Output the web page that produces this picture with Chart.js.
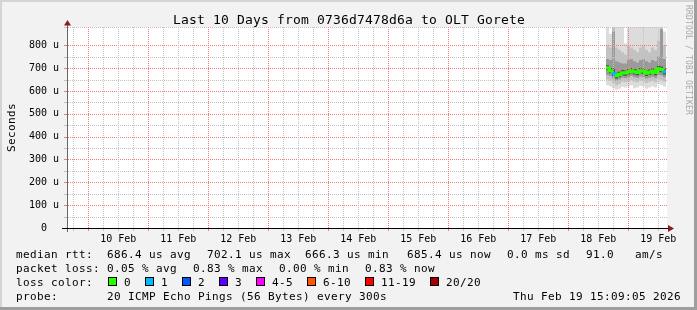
<!DOCTYPE html>
<html>
<head>
<meta charset="utf-8">
<script src="https://cdn.jsdelivr.net/npm/chart.js@4.4.1/dist/chart.umd.min.js"></script>
<style>
html, body { margin: 0; padding: 0; background: #f2f2f2; }
canvas { display: block; }
</style>
</head>
<body>
<canvas id="smokeChart" width="697" height="310"></canvas>
<script>
// step boundaries, hours since 10 Feb 00:00 (last value = end of last step)
const stepHours = [207.1, 208.3, 209.5, 210.7, 211.9, 213.1, 214.3, 215.5, 216.7, 217.9, 219.1,
                   220.3, 221.5, 222.7, 223.9, 225.1, 226.3, 227.5, 228.7, 229.9, 231.1];

// median rtt per step (us) and lost pings per step
const median = [702, 688, 676, 667, 672, 680, 679, 684, 689, 684, 681, 689, 686, 678, 682, 687, 681, 697, 694, 684];
const lost   = [0, 0, 1, 0, 0, 0, 0, 0, 0, 0, 0, 0, 0, 0, 0, 0, 0, 0, 0, 1];

// smoke: spread of the 20 pings per step (us)
const pingMax = [900, 850, 900, 900, 900, 900, 808, 900, 900, 900, 900, 900, 900, 900, 900, 900, 900, 900, 900, 860];
const ping90  = [800, 790, 900, 790, 780, 770, 760, 800, 790, 780, 770, 790, 800, 780, 770, 790, 780, 820, 900, 800];
const ping75  = [740, 735, 860, 730, 725, 720, 720, 735, 740, 730, 725, 735, 740, 730, 725, 735, 730, 750, 870, 740];
const ping60  = [712, 700, 700, 680, 685, 692, 690, 696, 700, 696, 693, 700, 698, 690, 694, 699, 693, 710, 707, 697];
const ping40  = [692, 678, 665, 655, 660, 668, 667, 672, 678, 672, 669, 678, 674, 666, 670, 675, 669, 685, 682, 672];
const ping25  = [670, 665, 655, 645, 650, 658, 656, 660, 665, 660, 657, 663, 660, 655, 658, 662, 657, 670, 668, 660];
const ping10  = [650, 645, 635, 625, 630, 640, 638, 642, 648, 640, 638, 645, 642, 635, 640, 644, 638, 652, 648, 640];
const pingMin = [625, 620, 612, 605, 610, 618, 615, 620, 625, 612, 615, 622, 620, 610, 615, 620, 615, 630, 625, 618];

const dayLabels = ['10 Feb', '11 Feb', '12 Feb', '13 Feb', '14 Feb', '15 Feb', '16 Feb', '17 Feb', '18 Feb', '19 Feb'];
const gridHours = [-6, 0, 6, 12, 18, 24, 30, 36, 42, 48, 54, 60, 66, 72, 78, 84, 90, 96, 102, 108, 114, 120,
                   126, 132, 138, 144, 150, 156, 162, 168, 174, 180, 186, 192, 198, 204, 210, 216, 222, 228];

const lossNames  = ['0', '1', '2', '3', '4-5', '6-10', '11-19', '20/20'];
const lossColors = ['#26ff00', '#00b8ff', '#0059ff', '#5e00ff', '#ff00ff', '#ff5500', '#ff0000', '#a10000'];

const titleText = 'Last 10 Days from 0736d7478d6a to OLT Gorete';
const rttRow  = [['median rtt:', 16], ['686.4 us avg', 107], ['702.1 us max', 207], ['666.3 us min', 305],
                 ['685.4 us now', 407], ['0.0 ms sd', 507], ['91.0', 586], ['am/s', 635]];
const lossRow = [['packet loss:', 16], ['0.05 % avg', 107], ['0.83 % max', 193], ['0.00 % min', 279], ['0.83 % now', 365]];
const probeRow = [['probe:', 16], ['20 ICMP Echo Pings (56 Bytes) every 300s', 107], ['Thu Feb 19 15:09:05 2026', 513]];

const MONO = '"DejaVu Sans Mono", "Liberation Mono", monospace';
const majorGrid = '#f27c7c';
const minorGrid = '#c2c2c2';
const MEDIAN_INDEX = 8;

const pts = arr => stepHours.map((h, i) => ({ x: h, y: arr[Math.min(i, arr.length - 1)] }));

function band(upper, lower, color, idx, order) {
    return [
        { data: pts(upper), borderWidth: 0, pointRadius: 0, stepped: true, fill: false, order: order },
        { data: pts(lower), borderWidth: 0, pointRadius: 0, stepped: true, fill: { target: idx }, backgroundColor: color, order: order }
    ];
}

function lossColor(n) {
    if (n <= 3) return lossColors[n];
    if (n <= 5) return lossColors[4];
    if (n <= 10) return lossColors[5];
    if (n <= 19) return lossColors[6];
    return lossColors[7];
}

// draw text with a fixed character pitch, like rrdtool does
function mono(ctx, str, x, y, pitch) {
    for (let i = 0; i < str.length; i++) ctx.fillText(str[i], x + i * pitch, y);
}

// dotted rrdtool style grid, placed with the chart's own scales
function drawGrid(chart) {
    const { ctx, chartArea: a, scales } = chart;
    const L = Math.round(a.left), R = Math.round(a.right), T = Math.round(a.top), B = Math.round(a.bottom);
    ctx.save();
    scales.y.ticks.forEach(t => {
        const py = Math.round(scales.y.getPixelForValue(t.value));
        if (py >= B) return;
        ctx.fillStyle = t.value % 100 === 0 ? majorGrid : minorGrid;
        for (let x = L + 1; x < R; x += 2) ctx.fillRect(x, py, 1, 1);
        ctx.fillRect(L - 3, py, 3, 1);
    });
    gridHours.forEach(h => {
        const px = Math.round(scales.x.getPixelForValue(h));
        ctx.fillStyle = h % 24 === 0 ? majorGrid : minorGrid;
        for (let y = T; y < B; y += 2) ctx.fillRect(px, y, 1, 1);
        ctx.fillRect(px, B + 1, 1, 2);
    });
    ctx.restore();
}

const rrdLook = {
    id: 'rrdLook',
    beforeDraw(chart) {
        const { ctx, chartArea: a } = chart;
        ctx.save();
        ctx.fillStyle = '#f2f2f2';
        ctx.fillRect(0, 0, chart.width, chart.height);
        ctx.fillStyle = '#ffffff';
        ctx.fillRect(a.left, a.top, a.right - a.left, a.bottom - a.top);
        ctx.restore();
    },
    beforeDatasetDraw(chart, args) {
        if (args.index === MEDIAN_INDEX) drawGrid(chart);
    },
    afterDraw(chart) {
        const { ctx, chartArea: a } = chart;
        ctx.save();
        // axes
        ctx.lineWidth = 1;
        ctx.strokeStyle = '#666';
        ctx.beginPath();
        ctx.moveTo(a.left + 0.5, a.bottom + 4);
        ctx.lineTo(a.left + 0.5, a.top - 5);
        ctx.stroke();
        ctx.strokeStyle = '#000';
        ctx.beginPath();
        ctx.moveTo(a.left - 5, a.bottom + 0.5);
        ctx.lineTo(a.right + 2, a.bottom + 0.5);
        ctx.stroke();
        ctx.fillStyle = '#8b1c1c';
        ctx.beginPath();
        ctx.moveTo(a.left - 3, a.top - 1.5);
        ctx.lineTo(a.left + 4, a.top - 1.5);
        ctx.lineTo(a.left + 0.5, a.top - 7);
        ctx.closePath();
        ctx.fill();
        ctx.beginPath();
        ctx.moveTo(a.right + 1, a.bottom - 3);
        ctx.lineTo(a.right + 1, a.bottom + 4);
        ctx.lineTo(a.right + 7, a.bottom + 0.5);
        ctx.closePath();
        ctx.fill();

        // title
        ctx.fillStyle = '#000';
        ctx.textBaseline = 'alphabetic';
        ctx.textAlign = 'left';
        ctx.font = '13px ' + MONO;
        mono(ctx, titleText, Math.round(chart.width / 2 - titleText.length * 4), 23.5, 8);

        // legend rows
        ctx.font = '11px ' + MONO;
        rttRow.forEach(([t, x]) => mono(ctx, t, x, 258, 7));
        lossRow.forEach(([t, x]) => mono(ctx, t, x, 272, 7));
        mono(ctx, 'loss color:', 16, 286, 7);
        const boxX = [108, 145, 182, 219, 256, 307, 365, 430];
        lossNames.forEach((name, i) => {
            ctx.fillStyle = lossColors[i];
            ctx.fillRect(boxX[i], 277, 8, 8);
            ctx.strokeStyle = '#000';
            ctx.strokeRect(boxX[i] + 0.5, 277.5, 8, 8);
            ctx.fillStyle = '#000';
            mono(ctx, name, boxX[i] + 16, 286, 7);
        });
        probeRow.forEach(([t, x]) => mono(ctx, t, x, 299.5, 7));

        // vertical labels
        ctx.save();
        ctx.translate(15, 152);
        ctx.rotate(-Math.PI / 2);
        mono(ctx, 'Seconds', 0, 0, 7);
        ctx.restore();

        ctx.save();
        ctx.fillStyle = '#a8a8a8';
        ctx.font = '8px ' + MONO;
        ctx.translate(686, 5);
        ctx.rotate(Math.PI / 2);
        mono(ctx, 'RRDTOOL / TOBI OETIKER', 0, 0, 5);
        ctx.restore();

        // frame
        ctx.fillStyle = '#d4d4d4';
        ctx.fillRect(0, 0, chart.width, 2);
        ctx.fillRect(0, 0, 2, chart.height);
        ctx.fillStyle = '#9e9e9e';
        ctx.fillRect(0, chart.height - 3, chart.width, 3);
        ctx.fillRect(chart.width - 3, 0, 3, chart.height);
        ctx.restore();
    }
};

const datasets = [
    ...band(pingMax, pingMin, '#dcdcdc', 0, 10),
    ...band(ping90, ping10, '#c2c2c2', 2, 8),
    ...band(ping75, ping25, '#9a9a9a', 4, 6),
    ...band(ping60, ping40, '#505050', 6, 4),
    {
        data: pts(median),
        stepped: true,
        borderWidth: 3,
        pointRadius: 0,
        fill: false,
        borderCapStyle: 'butt',
        borderColor: lossColors[0],
        segment: { borderColor: c => lossColor(lost[c.p0DataIndex] || 0) },
        order: 0
    }
];

const ctx = document.getElementById('smokeChart').getContext('2d');

new Chart(ctx, {
    type: 'line',
    data: { datasets: datasets },
    options: {
        responsive: false,
        animation: false,
        layout: { padding: { left: 0, right: 30, top: 27, bottom: 0 } },
        plugins: {
            legend: { display: false },
            tooltip: { enabled: false }
        },
        scales: {
            x: {
                type: 'linear',
                min: -8.5,
                max: 231.5,
                afterBuildTicks: s => { s.ticks = gridHours.map(v => ({ value: v })); },
                afterFit: s => { s.height = 82; },
                grid: { color: 'rgba(0,0,0,0)', tickLength: 3 },
                border: { display: false },
                ticks: {
                    autoSkip: false,
                    maxRotation: 0,
                    minRotation: 0,
                    padding: 2,
                    color: '#000',
                    font: { family: MONO, size: 10 },
                    callback: v => ((v - 12) % 24 === 0 && v >= 12) ? dayLabels[(v - 12) / 24] : ''
                }
            },
            y: {
                min: 0,
                max: 880,
                afterFit: s => { s.width = 67; },
                grid: { color: 'rgba(0,0,0,0)', tickLength: 3 },
                border: { display: false },
                ticks: {
                    autoSkip: false,
                    stepSize: 50,
                    padding: 5,
                    color: '#000',
                    font: { family: MONO, size: 10 },
                    callback: v => v === 0 ? '0  ' : (v % 100 === 0 ? v + ' u' : '')
                }
            }
        }
    },
    plugins: [rrdLook]
});
</script>
</body>
</html>
